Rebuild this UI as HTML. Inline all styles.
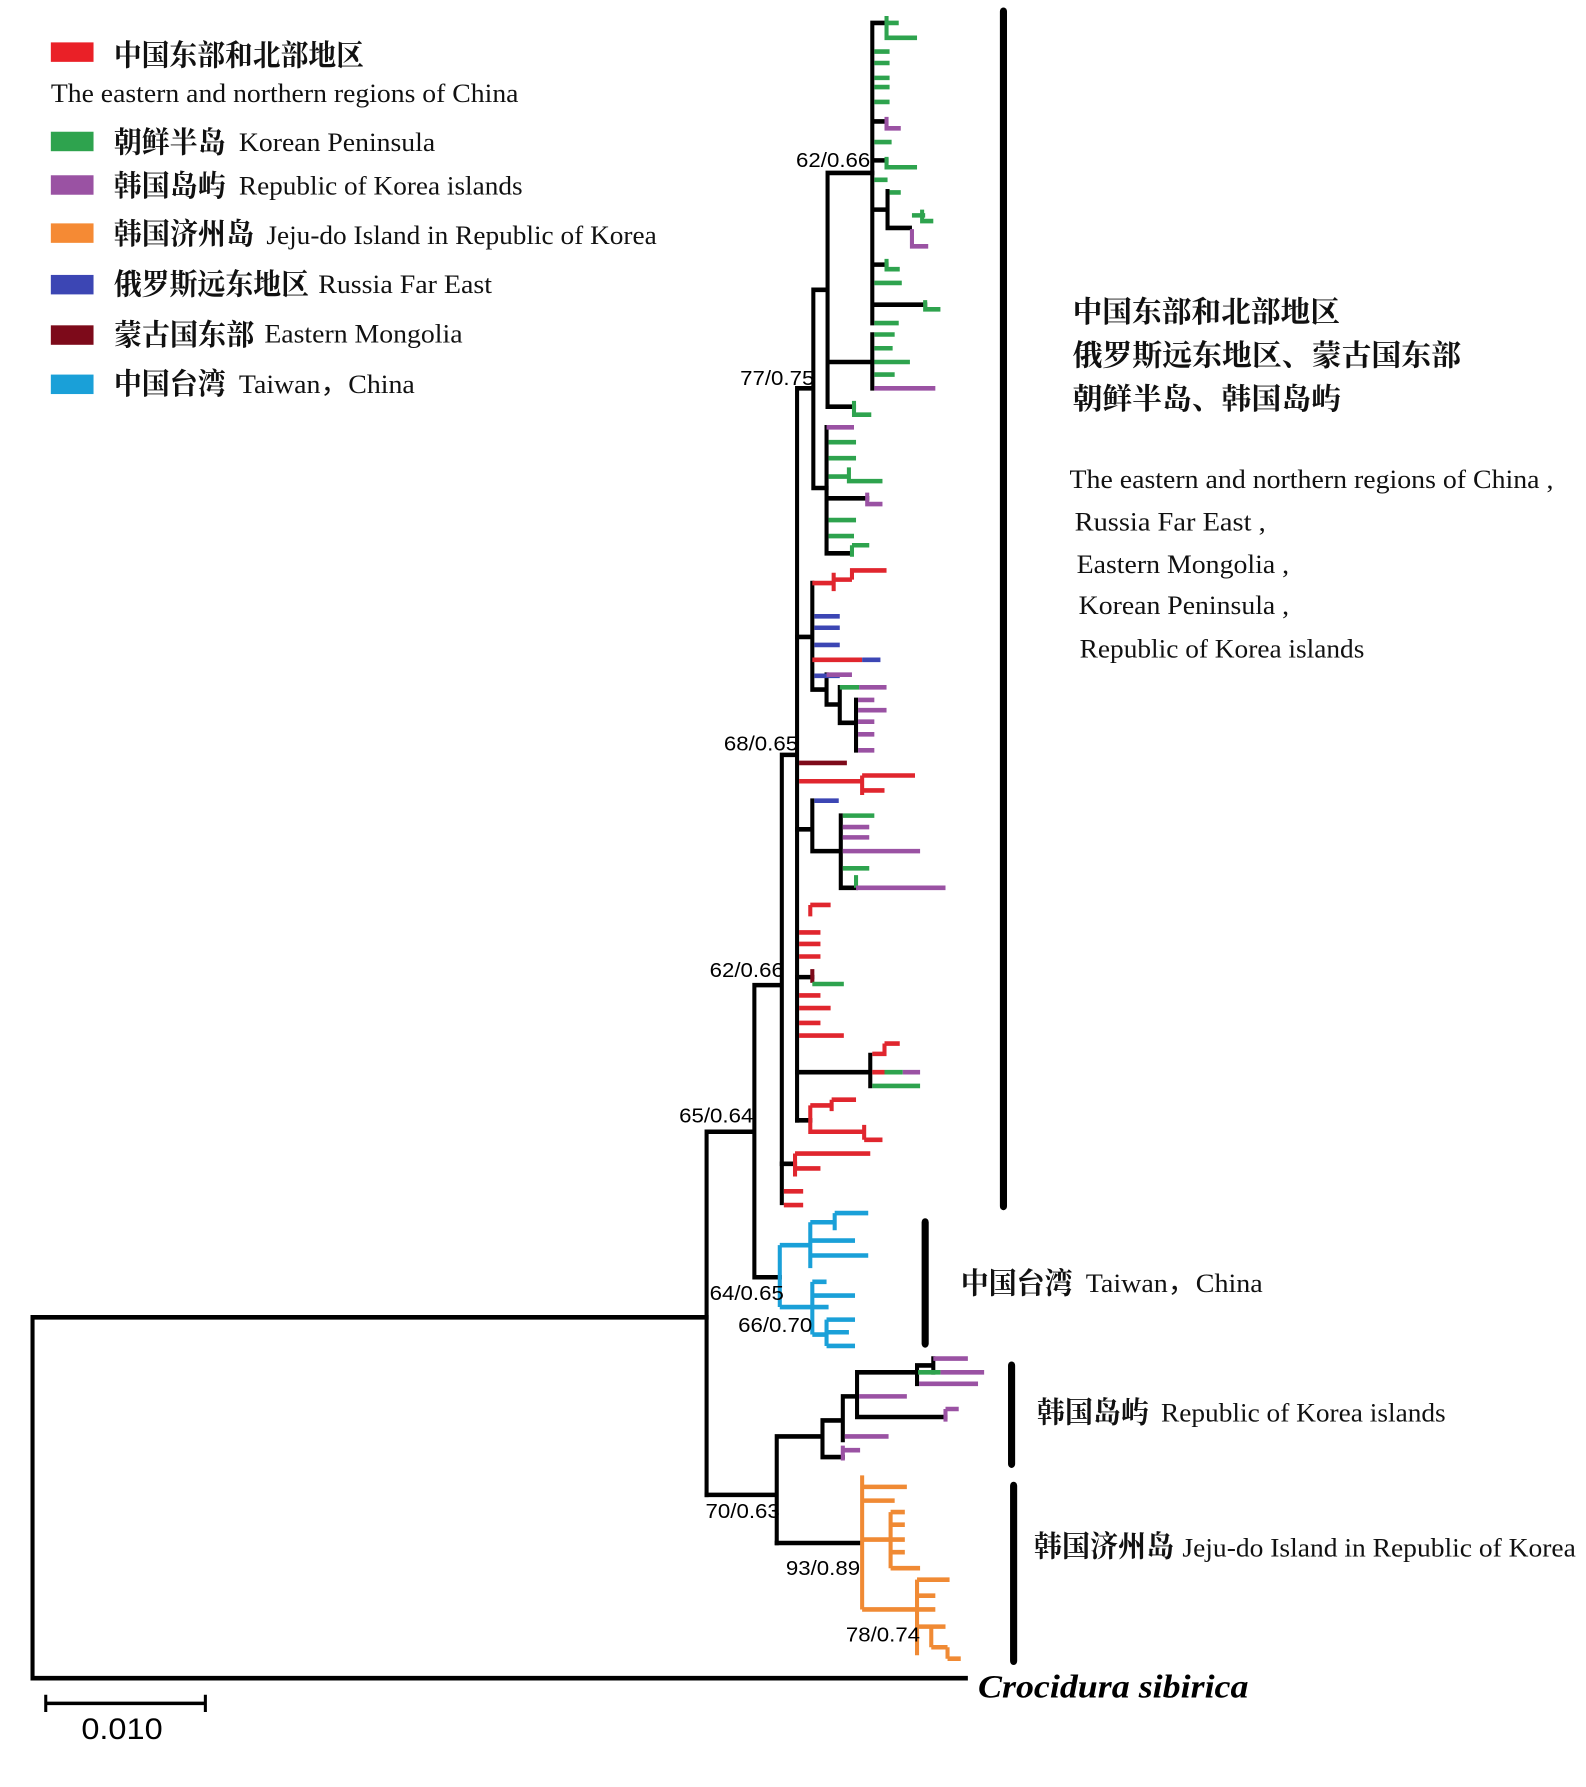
<!DOCTYPE html>
<html><head><meta charset="utf-8"><style>
html,body{margin:0;padding:0;background:#fff;}
svg{display:block;}
.k{stroke:#000;stroke-width:4;fill:none;stroke-linecap:square}
.r{stroke:#e0262e;stroke-width:4;fill:none}
.g{stroke:#2ea34e;stroke-width:4;fill:none}
.p{stroke:#9a52a3;stroke-width:4;fill:none}
.o{stroke:#f08a34;stroke-width:4;fill:none}
.b{stroke:#3c46b4;stroke-width:4;fill:none}
.d{stroke:#7d0a1a;stroke-width:4;fill:none}
.c{stroke:#1aa0d8;stroke-width:4;fill:none}
.bar{stroke:#000;stroke-width:7;stroke-linecap:round}
.cn{font-family:"Liberation Serif","Noto Serif CJK SC","Noto Sans CJK SC",serif;font-weight:bold;font-size:26px;fill:#111}
.en{font-family:"Liberation Serif",serif;font-size:23px;fill:#111}
.nl{font-family:"Liberation Sans",sans-serif;font-size:18px;fill:#000}
</style></head><body>
<svg width="1586" height="1787" viewBox="0 0 1560 1560" preserveAspectRatio="none" xmlns="http://www.w3.org/2000/svg">
<!-- legend -->
<rect x="50" y="37" width="42" height="17" fill="#ea2027"/>
<text x="112" y="57" class="cn" textLength="246" lengthAdjust="spacingAndGlyphs">中国东部和北部地区</text>
<text x="50" y="89" class="en" textLength="460" lengthAdjust="spacingAndGlyphs">The eastern and northern regions of China</text>
<rect x="50" y="115" width="42" height="17" fill="#2ea34e"/>
<text x="112" y="133" class="cn" textLength="110" lengthAdjust="spacingAndGlyphs">朝鲜半岛</text>
<text x="235" y="132" class="en" textLength="193" lengthAdjust="spacingAndGlyphs">Korean Peninsula</text>
<rect x="50" y="153" width="42" height="17" fill="#9a52a3"/>
<text x="112" y="171" class="cn" textLength="110" lengthAdjust="spacingAndGlyphs">韩国岛屿</text>
<text x="235" y="170" class="en" textLength="279" lengthAdjust="spacingAndGlyphs">Republic of Korea islands</text>
<rect x="50" y="195" width="42" height="17" fill="#f58a34"/>
<text x="112" y="213" class="cn" textLength="138" lengthAdjust="spacingAndGlyphs">韩国济州岛</text>
<text x="262" y="213" class="en" textLength="384" lengthAdjust="spacingAndGlyphs">Jeju-do Island in Republic of Korea</text>
<rect x="50" y="240" width="42" height="17" fill="#3c46b4"/>
<text x="112" y="257" class="cn" textLength="192" lengthAdjust="spacingAndGlyphs">俄罗斯远东地区</text>
<text x="313" y="256" class="en" textLength="171" lengthAdjust="spacingAndGlyphs">Russia Far East</text>
<rect x="50" y="284" width="42" height="17" fill="#7d0a1a"/>
<text x="112" y="301" class="cn" textLength="138" lengthAdjust="spacingAndGlyphs">蒙古国东部</text>
<text x="260" y="299" class="en" textLength="195" lengthAdjust="spacingAndGlyphs">Eastern Mongolia</text>
<rect x="50" y="327" width="42" height="17" fill="#1aa0d8"/>
<text x="112" y="344" class="cn" textLength="110" lengthAdjust="spacingAndGlyphs">中国台湾</text>
<text x="235" y="343" class="en" textLength="173" lengthAdjust="spacingAndGlyphs">Taiwan，China</text>

<!-- root -->
<path class="k" d="M32 1150 V1465 M32 1150 H695 M32 1465 H950"/>
<path class="k" d="M695 988 V1305 M695 988 H742 M742 860 V1115 M742 1115 H767 M742 860 H769 M769 659 V1050 M769 659 H784 M784 339 V978 M784 339 H800 M800 253 V426 M800 253 H814 M814 151 V355 M814 151 H858 M814 316 H858 M800 426 H813"/>
<!-- top clade -->
<path class="k" d="M858 20 V282 M858 20 H870 M858 106 H870 M858 140 H872 M858 183 H873 M873 167 V199 M873 199 H895 M858 231 H872 M858 266 H910 M858 292 V339 M814 355 H840"/>
<path class="g" d="M872 14 V33 H902 M872 20 H884 M860 45 H875 M860 55 H875 M860 68 H875 M860 76 H875 M860 89 H875 M860 124 H877 M872 137 V146 H902 M860 157 H873 M875 168 H886 M897 188 H910 M907 183 V193 H918 M872 226 V235 H885 M860 247 H887 M910 262 V270 H925 M860 282 H884 M860 292 H880 M860 304 H878 M860 316 H895 M860 327 H880 M840 350 V362 H857"/>
<path class="p" d="M872 102 V112 H886 M897 200 V215 H913 M860 339 H920"/>
<!-- second green subclade -->
<path class="k" d="M813 373 V483 M813 435 H853 M813 483 H838"/>
<path class="p" d="M813 373 H840 M853 430 V440 H868"/>
<path class="g" d="M815 386 H842 M815 400 H842 M815 416 H835 M835 408 V420 H868 M815 454 H842 M815 468 H840 M838 476 V486 M838 476 H855"/>
<!-- red/blue clade -->
<path class="k" d="M784 556 H799 M799 509 V602 M799 602 H813 M813 589 V615 M813 615 H826 M826 600 V631 M826 631 H842 M842 611 V655"/>
<path class="r" d="M799 509 H820 M820 500 V516 M820 506 H838 M838 496 V506 M838 498 H872 M799 576 H848"/>
<path class="b" d="M801 538 H826 M801 548 H826 M801 563 H826 M848 576 H866 M801 590 H826"/>
<path class="p" d="M813 589 H838 M845 600 H872 M844 611 H860 M844 620 H872 M844 630 H860 M844 641 H860 M844 655 H860"/>
<path class="g" d="M826 600 H845"/>
<!-- 68 clade leaves -->
<path class="d" d="M786 666 H833"/>
<path class="r" d="M786 682 H848 M848 677 V694 M848 677 H900 M848 690 H870"/>
<path class="k" d="M784 724 H799 M799 699 V743 M799 743 H827 M827 712 V775 M827 775 H842"/>
<path class="b" d="M801 699 H825"/>
<path class="g" d="M829 712 H860 M829 758 H855 M842 764 V775"/>
<path class="p" d="M829 722 H855 M829 731 H855 M829 743 H905 M842 775 H930"/>
<path class="r" d="M797 790 V800 M797 790 H817 M786 814 H807 M786 824 H807 M786 835 H807 M786 869 H807 M786 880 H817 M786 893 H807 M786 904 H830"/>
<path class="k" d="M784 853 H799"/>
<path class="d" d="M799 846 V858"/>
<path class="g" d="M799 859 H830"/>
<path class="k" d="M784 936 H856 M856 921 V948 M784 978 H797"/>
<path class="r" d="M858 920 H870 M870 911 V922 M870 911 H885 M858 936 H870 M797 965 V990 M797 965 H818 M818 960 V970 M818 960 H842 M797 988 H850 M850 982 V995 M850 995 H868"/>
<path class="g" d="M870 936 H888 M858 948 H905"/>
<path class="p" d="M888 936 H905"/>
<path class="k" d="M769 1016 H782"/>
<path class="r" d="M782 1007 V1027 M782 1007 H856 M782 1020 H807 M771 1040 H790 M771 1052 H790"/>
<!-- Taiwan -->
<path class="c" d="M767 1087 V1141 M767 1087 H797 M797 1067 V1107 M797 1067 H821 M821 1059 V1074 M821 1059 H854 M797 1083 H841 M797 1096 H854 M767 1141 H799 M799 1119 V1165 M799 1119 H813 M799 1131 H841 M799 1141 H815 M799 1165 H813 M813 1152 V1175 M813 1152 H841 M813 1163 H835 M813 1175 H841"/>
<!-- Korea islands -->
<path class="k" d="M695 1305 H764 M764 1254 V1347 M764 1254 H809 M809 1240 V1272 M809 1240 H829 M829 1219 V1257 M829 1219 H843 M843 1198 V1237 M843 1198 H902 M902 1192 V1208 M902 1192 H918 M918 1186 V1198 M843 1237 H930 M809 1272 H829"/>
<path class="p" d="M918 1186 H952 M925 1198 H968 M904 1208 H962 M845 1219 H892 M930 1230 V1241 M930 1230 H943 M831 1254 H874 M829 1262 V1275 M829 1266 H846"/>
<path class="g" d="M903 1198 H925"/>
<!-- Jeju -->
<path class="k" d="M764 1347 H846"/>
<path class="o" d="M848 1288 V1405 M848 1298 H892 M848 1310 H880 M848 1344 H876 M876 1320 V1369 M876 1320 H890 M876 1331 H890 M876 1344 H890 M876 1355 H890 M876 1369 H905 M848 1405 H902 M902 1379 V1445 M902 1379 H934 M902 1393 H920 M902 1405 H920 M902 1420 H916 M916 1420 V1438 M916 1420 H930 M916 1438 H932 M932 1438 V1448 M932 1448 H945"/>
<!-- bars -->
<line class="bar" x1="987" y1="10" x2="987" y2="1053"/>
<line class="bar" x1="910" y1="1067" x2="910" y2="1173"/>
<line class="bar" x1="995" y1="1192" x2="995" y2="1278"/>
<line class="bar" x1="997" y1="1297" x2="997" y2="1450"/>
<!-- clade labels -->
<text x="1055" y="281" class="cn" textLength="263" lengthAdjust="spacingAndGlyphs">中国东部和北部地区</text>
<text x="1055" y="319" class="cn" textLength="382" lengthAdjust="spacingAndGlyphs">俄罗斯远东地区、蒙古国东部</text>
<text x="1055" y="357" class="cn" textLength="264" lengthAdjust="spacingAndGlyphs">朝鲜半岛、韩国岛屿</text>
<text x="1052" y="426" class="en" textLength="476" lengthAdjust="spacingAndGlyphs">The eastern and northern regions of China ,</text>
<text x="1057" y="463" class="en" textLength="188" lengthAdjust="spacingAndGlyphs">Russia Far East ,</text>
<text x="1059" y="500" class="en" textLength="209" lengthAdjust="spacingAndGlyphs">Eastern Mongolia ,</text>
<text x="1061" y="536" class="en" textLength="207" lengthAdjust="spacingAndGlyphs">Korean Peninsula ,</text>
<text x="1062" y="574" class="en" textLength="280" lengthAdjust="spacingAndGlyphs">Republic of Korea islands</text>
<text x="945" y="1129" class="cn" textLength="110" lengthAdjust="spacingAndGlyphs">中国台湾</text>
<text x="1068" y="1128" class="en" textLength="174" lengthAdjust="spacingAndGlyphs">Taiwan，China</text>
<text x="1020" y="1242" class="cn" textLength="110" lengthAdjust="spacingAndGlyphs">韩国岛屿</text>
<text x="1142" y="1241" class="en" textLength="280" lengthAdjust="spacingAndGlyphs">Republic of Korea islands</text>
<text x="1017" y="1359" class="cn" textLength="138" lengthAdjust="spacingAndGlyphs">韩国济州岛</text>
<text x="1163" y="1359" class="en" textLength="387" lengthAdjust="spacingAndGlyphs">Jeju-do Island in Republic of Korea</text>
<text x="962" y="1482" textLength="266" lengthAdjust="spacingAndGlyphs" style="font-family:'Liberation Serif',serif;font-style:italic;font-weight:bold;font-size:29px;fill:#000">Crocidura sibirica</text>
<!-- node labels -->
<text x="783" y="146" class="nl" textLength="73" lengthAdjust="spacingAndGlyphs">62/0.66</text>
<text x="728" y="336" class="nl" textLength="73" lengthAdjust="spacingAndGlyphs">77/0.75</text>
<text x="712" y="655" class="nl" textLength="73" lengthAdjust="spacingAndGlyphs">68/0.65</text>
<text x="698" y="853" class="nl" textLength="73" lengthAdjust="spacingAndGlyphs">62/0.66</text>
<text x="668" y="980" class="nl" textLength="73" lengthAdjust="spacingAndGlyphs">65/0.64</text>
<text x="698" y="1135" class="nl" textLength="73" lengthAdjust="spacingAndGlyphs">64/0.65</text>
<text x="726" y="1163" class="nl" textLength="73" lengthAdjust="spacingAndGlyphs">66/0.70</text>
<text x="694" y="1325" class="nl" textLength="73" lengthAdjust="spacingAndGlyphs">70/0.63</text>
<text x="773" y="1375" class="nl" textLength="73" lengthAdjust="spacingAndGlyphs">93/0.89</text>
<text x="832" y="1433" class="nl" textLength="73" lengthAdjust="spacingAndGlyphs">78/0.74</text>
<!-- scale -->
<path class="k" style="stroke-width:3" d="M45 1487 H202 M45 1481 V1493 M202 1481 V1493"/>
<text x="80" y="1518" textLength="80" lengthAdjust="spacingAndGlyphs" style="font-family:'Liberation Sans',sans-serif;font-size:26px;fill:#000">0.010</text>
</svg>
</body></html>
